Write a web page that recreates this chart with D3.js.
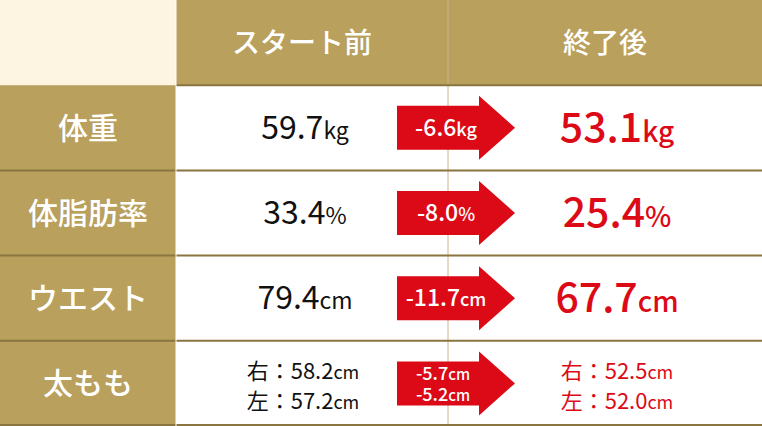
<!DOCTYPE html>
<meta charset="utf-8">
<script src="https://d3js.org/d3.v7.min.js"></script>
<style>
  body { margin: 0; background: #fff; }
  text { font-family: "Noto Sans CJK JP", "Noto Sans", sans-serif; }
</style>
<body>
<div id="chart"></div>
<script>
const headers = ["スタート前", "終了後"];
const items = ["体重", "体脂肪率", "ウエスト", "太もも"];
const before = [["59.7", "kg"], ["33.4", "%"], ["79.4", "cm"], null];
const change = [["-6.6", "kg"], ["-8.0", "%"], ["-11.7", "cm"], null];
const after = [["53.1", "kg"], ["25.4", "%"], ["67.7", "cm"], null];
// thigh row: right / left
const thighBefore = [["右：58.2", "cm"], ["左：57.2", "cm"]];
const thighChange = [["-5.7", "cm"], ["-5.2", "cm"]];
const thighAfter = [["右：52.5", "cm"], ["左：52.0", "cm"]];

const W = 762, H = 426, gold = "#b9a05c", red = "#dc0a16";
const svg = d3.select("#chart").append("svg").attr("width", W).attr("height", H);

const y = d3.scaleBand().domain(["head", ...items]).range([0, H]);
const colX = [0, 176, 448, W];

// backgrounds
svg.append("rect").attr("x", 0).attr("y", 0).attr("width", colX[1]).attr("height", y.bandwidth()).attr("fill", "#fdf4e2");
svg.append("rect").attr("x", colX[1]).attr("y", 0).attr("width", W - colX[1]).attr("height", y.bandwidth()).attr("fill", gold);
svg.selectAll(".lab").data(items).join("rect")
  .attr("x", 0).attr("y", d => y(d)).attr("width", colX[1]).attr("height", y.bandwidth()).attr("fill", gold);

// grid lines
svg.append("line").attr("x1", colX[2]).attr("x2", colX[2]).attr("y1", 0).attr("y2", H).attr("stroke", "#c9b58a").attr("stroke-width", 1);
svg.selectAll(".hl").data(items.slice(1)).join("line")
  .attr("x1", 0).attr("x2", W).attr("y1", d => y(d)).attr("y2", d => y(d))
  .attr("stroke", "#8a7540").attr("stroke-width", 2);
svg.append("line").attr("x1", colX[1]).attr("x2", W).attr("y1", y(items[0])).attr("y2", y(items[0])).attr("stroke", "#8a7540").attr("stroke-width", 2);
svg.append("line").attr("x1", 0).attr("x2", W).attr("y1", H - 1).attr("y2", H - 1).attr("stroke", "#8a7540").attr("stroke-width", 2);
svg.append("line").attr("x1", colX[1]).attr("x2", colX[1]).attr("y1", 0).attr("y2", H).attr("stroke", "#fff").attr("stroke-width", 1);

const mid = d => y(d) + y.bandwidth() / 2;

// header texts
svg.selectAll(".ht").data(headers).join("text")
  .attr("x", (d, i) => i === 0 ? 302 : 605).attr("y", y.bandwidth() / 2 + 10)
  .attr("text-anchor", "middle").attr("fill", "#fff").attr("font-size", 28).attr("font-weight", 500).text(d => d);

// item labels
svg.selectAll(".it").data(items).join("text")
  .attr("x", 88).attr("y", d => mid(d) + 11).attr("text-anchor", "middle")
  .attr("fill", "#fff").attr("font-size", 30).attr("font-weight", 500).text(d => d);

function valText(x, yy, v, size, usize, color, weight, anchor) {
  const t = svg.append("text").attr("x", x).attr("y", yy).attr("text-anchor", anchor)
    .attr("fill", color).attr("font-weight", weight);
  t.append("tspan").attr("font-size", size).text(v[0]);
  t.append("tspan").attr("font-size", usize).text(v[1]);
}

function arrow(cy) {
  const p = d3.path();
  p.moveTo(397, cy - 22); p.lineTo(479, cy - 22); p.lineTo(479, cy - 32);
  p.lineTo(515, cy); p.lineTo(479, cy + 32); p.lineTo(479, cy + 22);
  p.lineTo(397, cy + 22); p.closePath();
  svg.append("path").attr("d", p.toString()).attr("fill", red);
}

items.forEach((it, i) => {
  const cy = mid(it);
  arrow(cy);
  if (before[i]) {
    valText(305, cy + 11, before[i], 32, 23, "#111", 400, "middle");
    valText(446, cy + 8, change[i], 23, 18, "#fff", 500, "middle");
    valText(617, cy + 14, after[i], 41, 28, red, 500, "middle");
  } else {
    thighBefore.forEach((v, k) => valText(303, cy - 4 + k * 30, v, 22, 18, "#111", 400, "middle"));
    thighChange.forEach((v, k) => valText(443, cy - 3 + k * 21, v, 18, 15, "#fff", 500, "middle"));
    thighAfter.forEach((v, k) => valText(617, cy - 4 + k * 30, v, 22, 18, red, 400, "middle"));
  }
});
</script>
</body>
